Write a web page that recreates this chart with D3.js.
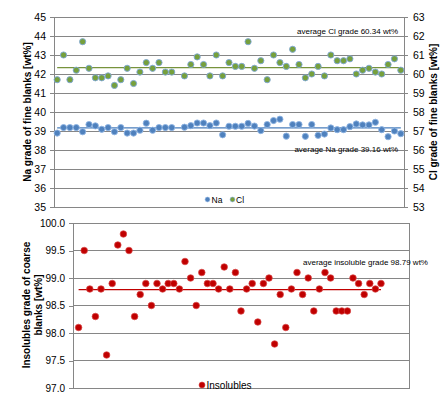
<!DOCTYPE html>
<html><head><meta charset="utf-8">
<script src="https://cdn.jsdelivr.net/npm/d3@7"></script>
<style>
body{margin:0;background:#fff;}
svg{display:block;font-family:"Liberation Sans",Arial,sans-serif;}
</style></head>
<body><svg id="c" width="442" height="399"></svg>
<script>
// ---- data ----
const naValues = [38.89,39.18,39.18,39.18,38.96,39.34,39.27,39.09,39.18,38.96,39.18,38.89,38.89,39.04,39.41,39.04,39.18,39.18,39.18,null,
  39.20,39.28,39.42,39.42,39.28,39.42,38.80,39.25,39.25,39.25,39.40,39.26,39.02,39.34,39.55,39.62,38.73,39.34,39.34,38.72,
  39.34,38.77,38.84,39.16,39.07,39.07,39.23,39.37,39.32,39.32,39.46,39.07,38.70,39.00,38.86];
const clValues = [59.70,61.00,59.70,60.20,61.70,60.30,59.80,59.80,59.90,59.40,59.70,60.30,59.50,60.10,60.60,60.30,60.60,60.10,60.10,null,
  59.90,60.50,60.90,60.50,59.90,61.00,59.90,60.60,60.40,60.40,61.70,60.30,60.70,59.70,61.00,60.60,60.40,61.30,60.50,59.80,
  60.00,60.40,59.90,61.00,60.70,60.70,60.80,60.00,60.20,60.30,60.10,60.00,60.50,60.80,60.20];
const insolValues = [98.1,99.5,98.8,98.3,98.8,97.6,98.9,99.6,99.8,99.5,98.3,98.7,98.9,98.5,98.9,98.8,98.9,98.9,98.8,99.3,
  99.0,98.5,99.1,98.9,98.9,98.8,99.2,98.8,99.1,98.4,98.8,98.9,98.2,98.9,99.0,97.8,98.7,98.1,98.8,99.1,
  98.7,99.0,98.4,98.8,99.1,99.0,98.4,98.4,98.4,99.0,98.9,98.7,98.9,98.8,98.9];
const naAvg = 39.16, clAvg = 60.34, insolAvg = 98.79;
const naTicks = [35,36,37,38,39,40,41,42,43,44,45];
const clTicks = [53,54,55,56,57,58,59,60,61,62,63];
const insolTicks = [97.0,97.5,98.0,98.5,99.0,99.5,100.0];
const seriesNames = ["Na","Cl","Insolubles"];
const annoCl = "average Cl grade 60.34 wt%";
const annoNa = "average Na grade 39.16 wt%";
const annoIns = "average insoluble grade 98.79 wt%";
const titleNa = "Na grade of fine blanks [wt%]";
const titleCl = "Cl grade of fine blanks [wt%]";
const titleIns = ["Insolubles grade of coarse","blanks [wt%]"];

// ---- styles ----
const GRID = "#868686", NA_C = "#4F81BD", NA_S = "#8EB4E3", CL_C = "#76A03C", CL_S = "#7FA7D9";
const INS_C = "#C00000", INS_S = "#D84848";

const svg = d3.select("#c");

// ================= TOP CHART =================
const T = {l:54, r:404, t:17, b:207};
const idx = d3.range(naValues.length);
const xT = d3.scaleBand().domain(idx).range([T.l, T.r]);
const xc = i => xT(i) + xT.bandwidth()/2;
const yNa = d3.scaleLinear().domain([35,45]).range([T.b, T.t]);
const yCl = d3.scaleLinear().domain([53,63]).range([T.b, T.t]);

const gTop = svg.append("g");
gTop.append("g").selectAll("line").data(naTicks).join("line")
  .attr("x1",T.l).attr("x2",T.r).attr("y1",d=>yNa(d)).attr("y2",d=>yNa(d))
  .attr("stroke",GRID).attr("stroke-width",1).attr("shape-rendering","crispEdges");
const axL = gTop.append("g").attr("transform",`translate(${T.l},0)`)
  .call(d3.axisLeft(yNa).tickValues(naTicks).tickSize(4).tickPadding(4).tickFormat(d3.format("d")));
const axR = gTop.append("g").attr("transform",`translate(${T.r},0)`)
  .call(d3.axisRight(yCl).tickValues(clTicks).tickSize(4).tickPadding(5).tickFormat(d3.format("d")));
[axL,axR].forEach(a=>{
  a.select(".domain").attr("stroke",GRID).attr("shape-rendering","crispEdges");
  a.selectAll(".tick line").attr("stroke",GRID).attr("shape-rendering","crispEdges");
  a.selectAll("text").attr("font-size",10.5).attr("fill","#000").attr("font-family","Liberation Sans, Arial, sans-serif");
});

const firstI = 0, lastI = naValues.length-1;
gTop.append("line").attr("x1",xc(firstI)).attr("x2",xc(lastI))
  .attr("y1",yCl(clAvg)).attr("y2",yCl(clAvg)).attr("stroke","#77933C").attr("stroke-width",1.2);
gTop.append("line").attr("x1",xc(firstI)).attr("x2",xc(lastI))
  .attr("y1",yNa(naAvg)).attr("y2",yNa(naAvg)).attr("stroke","#4A7EBB").attr("stroke-width",1.2);

gTop.append("g").selectAll("circle").data(idx.filter(i=>naValues[i]!=null)).join("circle")
  .attr("cx",xc).attr("cy",i=>yNa(naValues[i])).attr("r",3.1)
  .attr("fill",NA_C).attr("stroke",NA_S).attr("stroke-width",0.9);
gTop.append("g").selectAll("circle").data(idx.filter(i=>clValues[i]!=null)).join("circle")
  .attr("cx",xc).attr("cy",i=>yCl(clValues[i])).attr("r",3.1)
  .attr("fill",CL_C).attr("stroke",CL_S).attr("stroke-width",0.9);

gTop.append("text").attr("x",398).attr("y",33.5).attr("text-anchor","end")
  .attr("font-size",8).text(annoCl);
gTop.append("text").attr("x",398).attr("y",152).attr("text-anchor","end")
  .attr("font-size",8).text(annoNa);

const lgT = gTop.append("g");
lgT.append("circle").attr("cx",207.5).attr("cy",199.5).attr("r",2.4).attr("fill",NA_C).attr("stroke",NA_S).attr("stroke-width",0.6);
lgT.append("text").attr("x",211.5).attr("y",202.5).attr("font-size",8.5).text(seriesNames[0]);
lgT.append("circle").attr("cx",232.5).attr("cy",199.5).attr("r",2.4).attr("fill",CL_C).attr("stroke",CL_S).attr("stroke-width",0.6);
lgT.append("text").attr("x",236).attr("y",202.5).attr("font-size",8.5).text(seriesNames[1]);

gTop.append("text").attr("transform",`translate(30.5,112) rotate(-90)`).attr("text-anchor","middle")
  .attr("font-size",10).attr("font-weight","bold").text(titleNa);
gTop.append("text").attr("transform",`translate(436.5,112) rotate(-90)`).attr("text-anchor","middle")
  .attr("font-size",10).attr("font-weight","bold").text(titleCl);

// ================= BOTTOM CHART =================
const B = {l:73, r:409, t:223, b:388};
const xB = d3.scaleLinear().domain([0,60]).range([B.l,B.r]);
const yB = d3.scaleLinear().domain([97,100]).range([B.b,B.t]);
const gBot = svg.append("g");
gBot.append("g").selectAll("line").data(insolTicks).join("line")
  .attr("x1",B.l).attr("x2",B.r).attr("y1",d=>yB(d)).attr("y2",d=>yB(d))
  .attr("stroke",GRID).attr("shape-rendering","crispEdges");
gBot.append("rect").attr("x",B.l).attr("y",B.t).attr("width",B.r-B.l).attr("height",B.b-B.t)
  .attr("fill","none").attr("stroke",GRID).attr("shape-rendering","crispEdges");
const axB = gBot.append("g").attr("transform",`translate(${B.l},0)`)
  .call(d3.axisLeft(yB).tickValues(insolTicks).tickSize(4).tickPadding(4).tickFormat(d3.format(".1f")));
axB.select(".domain").attr("stroke",GRID).attr("shape-rendering","crispEdges");
axB.selectAll(".tick line").attr("stroke",GRID).attr("shape-rendering","crispEdges");
axB.selectAll("text").attr("font-size",10).attr("fill","#000").attr("font-family","Liberation Sans, Arial, sans-serif");

gBot.append("line").attr("x1",xB(1)).attr("x2",xB(insolValues.length))
  .attr("y1",yB(insolAvg)).attr("y2",yB(insolAvg)).attr("stroke",INS_C).attr("stroke-width",1.3);

gBot.append("g").selectAll("circle").data(insolValues).join("circle")
  .attr("cx",(d,i)=>xB(i+1)).attr("cy",d=>yB(d)).attr("r",3.3)
  .attr("fill",INS_C).attr("stroke",INS_S).attr("stroke-width",0.7);

gBot.append("text").attr("x",303).attr("y",265).attr("font-size",8).text(annoIns);

gBot.append("circle").attr("cx",202).attr("cy",385).attr("r",3).attr("fill",INS_C).attr("stroke",INS_S).attr("stroke-width",0.6);
gBot.append("text").attr("x",206.5).attr("y",388.5).attr("font-size",10).text(seriesNames[2]);

const tB = gBot.append("text").attr("text-anchor","middle").attr("font-size",10).attr("font-weight","bold")
  .attr("transform","translate(0,305) rotate(-90)");
tB.append("tspan").attr("x",0).attr("y",29.5).text(titleIns[0]);
tB.append("tspan").attr("x",0).attr("y",41.5).text(titleIns[1]);
</script></body></html>
